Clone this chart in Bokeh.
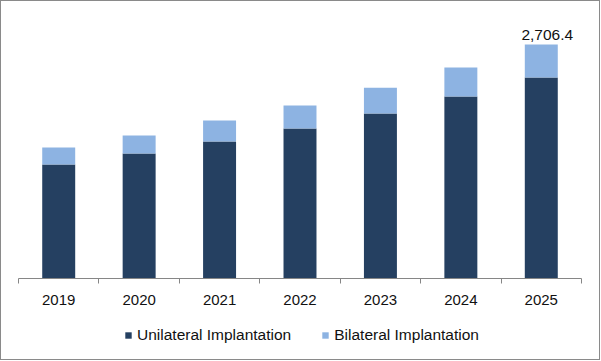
from bokeh.plotting import figure
from bokeh.layouts import column
from bokeh.models import ColumnDataSource, FixedTicker, LinearAxis, Range1d, Legend, LegendItem
from bokeh.core.properties import value
from bokeh.embed import file_html
from bokeh.resources import INLINE

years = ["2019", "2020", "2021", "2022", "2023", "2024", "2025"]
unilateral = [1318, 1446, 1585, 1735, 1908, 2105, 2325]
bilateral = [197, 208, 242, 266, 297, 335, 381.4]
total_label = "2,706.4"

series = ["Unilateral Implantation", "Bilateral Implantation"]
colors = ["#254061", "#8DB3E2"]

xpos = [i + 0.5 for i in range(len(years))]
totals = [u + b for u, b in zip(unilateral, bilateral)]

src = ColumnDataSource(dict(x=xpos, uni=unilateral, bil=bilateral))

p = figure(width=598, height=310, output_backend="svg", toolbar_location=None,
           x_range=Range1d(0, len(years)), y_range=Range1d(0, 2984),
           x_axis_location=None, y_axis_location=None,
           min_border_left=17, min_border_right=18, min_border_top=19, min_border_bottom=33)
p.outline_line_color = None
p.xgrid.visible = False
p.ygrid.visible = False
p.background_fill_color = "white"
p.border_fill_color = "white"

rs = p.vbar_stack(["uni", "bil"], x="x", width=0.41, source=src, color=colors, line_color=None)

ax = LinearAxis(ticker=FixedTicker(ticks=xpos, minor_ticks=list(range(len(years) + 1))))
ax.major_label_overrides = {x: y for x, y in zip(xpos, years)}
ax.major_tick_line_color = None
ax.major_tick_out = 0
ax.major_tick_in = 0
ax.minor_tick_out = 5
ax.minor_tick_in = 0
ax.minor_tick_line_color = "#868686"
ax.axis_line_color = "#868686"
ax.major_label_standoff = 11
ax.major_label_text_font = "Liberation Sans"
ax.major_label_text_font_size = "15px"
ax.major_label_text_color = "#111111"
p.add_layout(ax, "below")

p.text(x=[xpos[-1]], y=[totals[-1]], text=[total_label], text_align="center",
       text_baseline="alphabetic", x_offset=6, y_offset=-10,
       text_font=value("Liberation Sans"), text_font_size="15.5px", text_color="#111111")

# legend strip
q = figure(width=598, height=48, output_backend="svg", toolbar_location=None,
           x_range=Range1d(0, 1), y_range=Range1d(0, 1),
           x_axis_location=None, y_axis_location=None,
           min_border_left=0, min_border_right=0, min_border_top=0, min_border_bottom=0)
q.outline_line_color = None
q.xgrid.visible = False
q.ygrid.visible = False
q.border_fill_color = "white"
dummies = [q.vbar(x=[0.5], top=[0], width=0.0, color=c, line_color=None) for c in colors]

legend = Legend(items=[LegendItem(label=s, renderers=[r]) for s, r in zip(series, dummies)],
                orientation="horizontal", location=(106, 15))
legend.border_line_color = None
legend.background_fill_alpha = 0
legend.padding = 0
legend.margin = 0
legend.spacing = 30
legend.glyph_width = 8
legend.glyph_height = 8
legend.label_standoff = 5
legend.label_text_font = "Liberation Sans"
legend.label_text_font_size = "15.5px"
legend.label_text_color = "#111111"
q.add_layout(legend, "center")

layout = column(p, q, spacing=0)
layout.styles = {"border": "1px solid #8a8a8a"}

open("out.html", "w").write(file_html(layout, INLINE))
